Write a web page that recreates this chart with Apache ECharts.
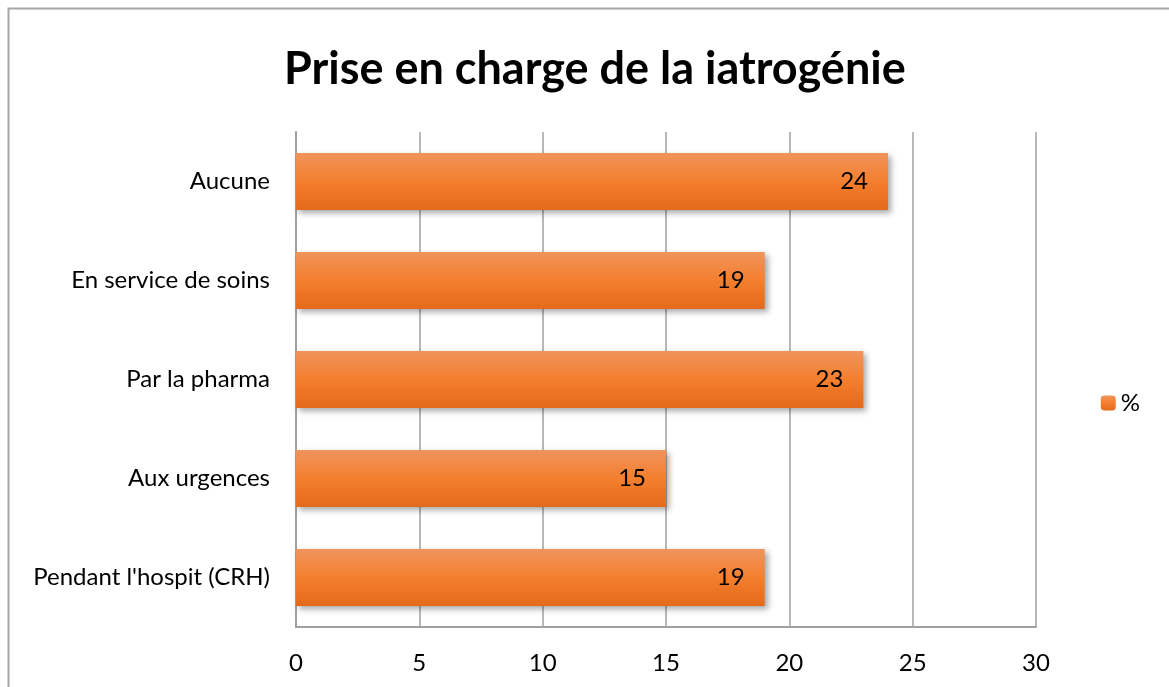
<!DOCTYPE html>
<html>
<head>
<meta charset="utf-8">
<script src="https://cdn.jsdelivr.net/npm/echarts@6/dist/echarts.min.js"></script>
<style>
html, body { margin: 0; padding: 0; background: #fff; }
#chart { width: 1169px; height: 687px; }
</style>
</head>
<body>
<div id="chart"></div>
<script>
// données
var categories = ['Aucune', 'En service de soins', 'Par la pharma', 'Aux urgences', "Pendant l'hospit (CRH)"];
var values = [24, 19, 23, 15, 19];
var xTicks = [0, 5, 10, 15, 20, 25, 30];

var font = 'Lato, "Open Sans", sans-serif';
var myChart = echarts.init(document.getElementById('chart'));

var option = {
    animation: false,
    backgroundColor: '#fff',
    textStyle: {fontFamily: font},
    title: {
        text: 'Prise en charge de la iatrogénie',
        left: 279,
        top: 42,
        textStyle: {fontSize: 45, fontWeight: 'bold', color: '#000', fontFamily: font}
    },
    legend: {
        data: ['%'],
        right: 24,
        top: 386,
        itemWidth: 15,
        itemHeight: 15,
        itemGap: 8,
        textStyle: {fontSize: 24, color: '#000', fontFamily: font}
    },
    graphic: [{
        type: 'rect',
        shape: {x: 8.5, y: 8.5, width: 1200, height: 700},
        style: {fill: 'none', stroke: '#a6a6a6', lineWidth: 2},
        silent: true
    }],
    grid: {left: 296, top: 132, width: 740, height: 495},
    xAxis: {
        type: 'value',
        min: 0,
        max: 30,
        interval: 5,
        axisLine: {show: true, lineStyle: {color: '#a0a0a0', width: 2}},
        axisTick: {show: false},
        splitLine: {show: true, lineStyle: {color: '#a0a0a0', width: 1.5}},
        axisLabel: {
            fontSize: 24, color: '#000', margin: 24, fontFamily: font,
            formatter: function (v) { return xTicks.indexOf(v) >= 0 ? String(v) : ''; }
        }
    },
    yAxis: {
        type: 'category',
        inverse: true,
        data: categories,
        axisLine: {show: true, lineStyle: {color: '#a0a0a0', width: 2}},
        axisTick: {show: false},
        axisLabel: {fontSize: 24, color: '#000', margin: 26, fontFamily: font}
    },
    series: [{
        name: '%',
        type: 'bar',
        data: values,
        barWidth: 57,
        itemStyle: {
            color: new echarts.graphic.LinearGradient(0, 0, 0, 1, [
                {offset: 0, color: '#f0945c'},
                {offset: 0.5, color: '#f47f2e'},
                {offset: 1, color: '#e36a1a'}
            ]),
            shadowBlur: 6,
            shadowOffsetX: 3,
            shadowOffsetY: 3,
            shadowColor: 'rgba(0, 0, 0, 0.35)'
        },
        label: {
            show: true,
            position: 'insideRight',
            distance: 20,
            fontSize: 24,
            color: '#000',
            fontFamily: font
        }
    }]
};

myChart.setOption(option);
</script>
</body>
</html>
